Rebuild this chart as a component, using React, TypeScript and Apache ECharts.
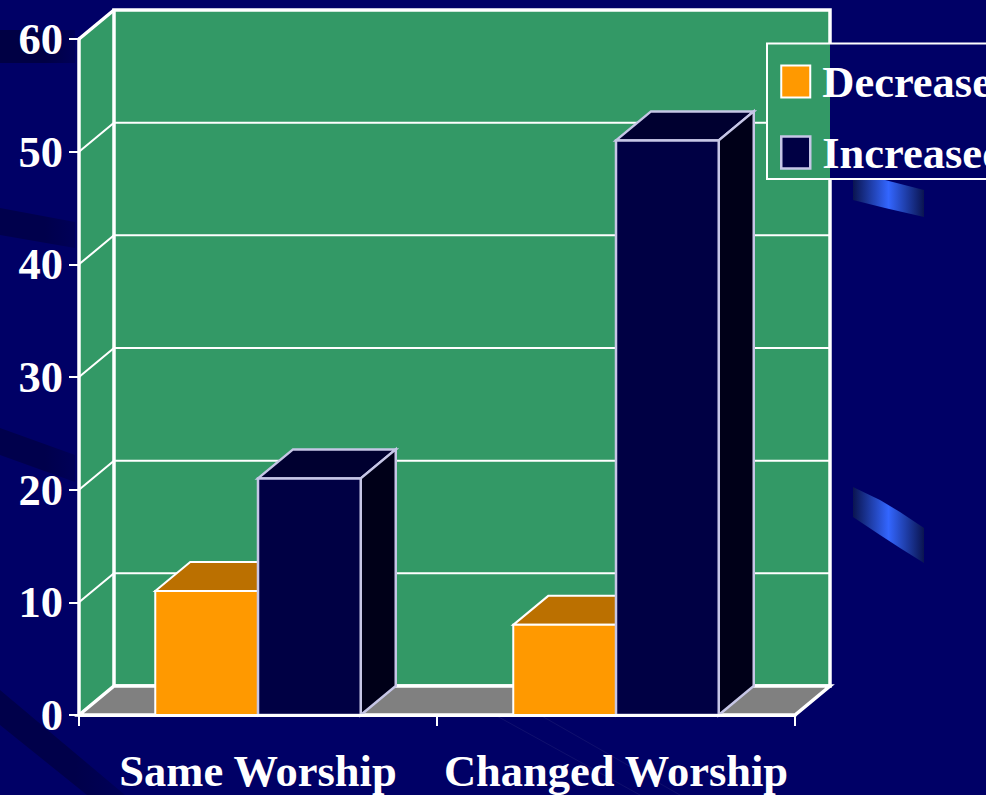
import React, { useEffect, useRef } from "react";
import * as echarts from "echarts";

const categories = ["Same Worship", "Changed Worship"];
const decreaseValues = [11, 8];
const increaseValues = [21, 51];
const yTicks = [0, 10, 20, 30, 40, 50, 60];
const seriesNames = ["Decreased", "Increased"];

const FONT = "'Liberation Serif', 'Times New Roman', serif";
const NAVY = "#000066";
const WALL = "#339966";
const FLOOR = "#808080";
const DEPTH_X = 35;
const DEPTH_Y = 29;
const BAR_SHARE = 0.287;

const decreaseFaces = { front: "#FF9900", top: "#BB7000", side: "#BB7000", edge: "#FFFFFF", width: 2 };
const increaseFaces = { front: "#000044", top: "#000030", side: "#000018", edge: "#C6C6E6", width: 2.5 };

const poly = (points: number[][], fill: string, stroke: string, lineWidth: number) => ({
  type: "polygon",
  shape: { points },
  style: { fill, stroke, lineWidth, lineJoin: "miter" },
});

// Back wall, side wall and floor of the 3D plot box.
const renderBox = (params: any) => {
  const { x, y, width, height } = params.coordSys;
  const bottom = y + height;
  const right = x + width;
  return {
    type: "group",
    children: [
      poly([[x, y], [x + DEPTH_X, y - DEPTH_Y], [x + DEPTH_X, bottom - DEPTH_Y], [x, bottom]], WALL, "none", 0),
      poly(
        [[x + DEPTH_X, y - DEPTH_Y], [right + DEPTH_X, y - DEPTH_Y], [right + DEPTH_X, bottom - DEPTH_Y], [x + DEPTH_X, bottom - DEPTH_Y]],
        WALL,
        "#FFFFFF",
        3.5,
      ),
      poly([[x, bottom], [x + DEPTH_X, bottom - DEPTH_Y], [right + DEPTH_X, bottom - DEPTH_Y], [right, bottom]], FLOOR, "#FFFFFF", 3.5),
      {
        type: "polyline",
        shape: { points: [[x, y], [x + DEPTH_X, y - DEPTH_Y]] },
        style: { stroke: "#FFFFFF", lineWidth: 3.5, fill: "none" },
      },
    ],
  };
};

// A gridline folds along the side wall and then runs across the back wall.
const renderGridline = (params: any, api: any) => {
  const { x, width } = params.coordSys;
  const py = api.coord([0, api.value(0)])[1];
  return {
    type: "polyline",
    shape: { points: [[x, py], [x + DEPTH_X, py - DEPTH_Y], [x + width + DEPTH_X, py - DEPTH_Y]] },
    style: { stroke: "#FFFFFF", lineWidth: 2, fill: "none" },
  };
};

const barRenderer = (faces: typeof decreaseFaces, side: number) => (_params: any, api: any) => {
  const top = api.coord([api.value(0), api.value(1)]);
  const base = api.coord([api.value(0), 0]);
  const barWidth = api.size([1, 0])[0] * BAR_SHARE;
  const x0 = top[0] + (side < 0 ? -barWidth : 0);
  const x1 = x0 + barWidth;
  const lw = faces.width;
  return {
    type: "group",
    children: [
      poly([[x0, top[1]], [x0 + DEPTH_X, top[1] - DEPTH_Y], [x1 + DEPTH_X, top[1] - DEPTH_Y], [x1, top[1]]], faces.top, faces.edge, lw),
      poly([[x1, top[1]], [x1 + DEPTH_X, top[1] - DEPTH_Y], [x1 + DEPTH_X, base[1] - DEPTH_Y], [x1, base[1]]], faces.side, faces.edge, lw),
      poly([[x0, top[1]], [x1, top[1]], [x1, base[1]], [x0, base[1]]], faces.front, faces.edge, lw),
    ],
  };
};

const horizontal = (colorStops: { offset: number; color: string }[]) => ({
  type: "linear",
  x: 0,
  y: 0,
  x2: 1,
  y2: 0,
  colorStops,
});

const darkBand = (points: number[][], color: string) => ({
  type: "polygon",
  z: 0,
  silent: true,
  shape: { points },
  style: {
    fill: horizontal([
      { offset: 0, color },
      { offset: 0.6, color },
      { offset: 1, color: "#000058" },
    ]),
  },
});

const streak = (points: number[][]) => ({
  type: "polygon",
  z: 0,
  silent: true,
  shape: { points },
  style: {
    fill: horizontal([
      { offset: 0, color: "#0A1450" },
      { offset: 0.5, color: "#3366FF" },
      { offset: 1, color: "#0A1450" },
    ]),
  },
});

const faintLine = (points: number[][]) => ({
  type: "polyline",
  z: 0,
  silent: true,
  shape: { points },
  style: { stroke: "#10106E", lineWidth: 1, fill: "none" },
});

const backdrop = [
  darkBand([[0, 30], [75, 30], [75, 63], [0, 63]], "#000044"),
  darkBand([[0, 208], [75, 222], [75, 248], [0, 235]], "#00004C"),
  darkBand([[0, 428], [75, 455], [75, 482], [0, 455]], "#00004C"),
  darkBand([[0, 690], [125, 795], [87, 795], [0, 725]], "#00004A"),
  streak([[853, 173], [885, 180], [924, 190], [924, 217], [885, 208], [853, 200]]),
  streak([[853, 487], [880, 500], [900, 512], [924, 528], [924, 563], [900, 548], [880, 535], [853, 517]]),
  faintLine([[495, 715], [640, 795]]),
  faintLine([[540, 715], [680, 795]]),
];

const legendPanel = [
  { type: "rect", z: 8, silent: true, shape: { x: 767, y: 43, width: 63, height: 136 }, style: { fill: WALL } },
  { type: "rect", z: 8, silent: true, shape: { x: 830, y: 43, width: 156, height: 136 }, style: { fill: NAVY } },
  {
    type: "polyline",
    z: 9,
    silent: true,
    shape: { points: [[986, 43.5], [767, 43.5], [767, 179], [986, 179]] },
    style: { stroke: "#FFFFFF", lineWidth: 2, fill: "none" },
  },
];

export default function App() {
  const ref = useRef<HTMLDivElement>(null);

  useEffect(() => {
    const chart = echarts.init(ref.current!, undefined, { renderer: "svg" });
    chart.setOption({
      animation: false,
      backgroundColor: NAVY,
      textStyle: { fontFamily: FONT },
      grid: { left: 79, right: 191, top: 39, bottom: 80 },
      graphic: { elements: [...backdrop, ...legendPanel] },
      legend: {
        z: 10,
        orient: "vertical",
        left: 780,
        top: 59,
        padding: 0,
        itemWidth: 29,
        itemHeight: 32,
        itemGap: 26,
        selectedMode: false,
        data: [
          { name: seriesNames[0], icon: "rect", itemStyle: { color: decreaseFaces.front, borderColor: decreaseFaces.edge, borderWidth: 2 } },
          { name: seriesNames[1], icon: "rect", itemStyle: { color: increaseFaces.front, borderColor: increaseFaces.edge, borderWidth: 2.5 } },
        ],
        textStyle: { color: "#FFFFFF", fontFamily: FONT, fontWeight: "bold", fontSize: 44.5, padding: [4, 0, 0, 7] },
      },
      xAxis: {
        type: "category",
        data: categories,
        z: 5,
        axisLine: { lineStyle: { color: "#FFFFFF", width: 3 } },
        axisTick: { show: true, alignWithLabel: false, length: 11, lineStyle: { color: "#FFFFFF", width: 2 } },
        axisLabel: { color: "#FFFFFF", fontFamily: FONT, fontWeight: "bold", fontSize: 44.5, margin: 33, interval: 0 },
      },
      yAxis: {
        type: "value",
        min: 0,
        max: 60,
        interval: 10,
        z: 5,
        splitLine: { show: false },
        axisLine: { show: true, lineStyle: { color: "#FFFFFF", width: 3.5 } },
        axisTick: { show: true, length: 10, lineStyle: { color: "#FFFFFF", width: 2 } },
        axisLabel: { color: "#FFFFFF", fontFamily: FONT, fontWeight: "bold", fontSize: 44.5, margin: 16 },
      },
      series: [
        { type: "custom", name: "box", silent: true, z: 1, data: [[0]], renderItem: renderBox },
        { type: "custom", name: "gridlines", silent: true, z: 2, data: yTicks.map((v) => [v]), renderItem: renderGridline },
        {
          type: "custom",
          name: seriesNames[0],
          z: 3,
          itemStyle: { color: decreaseFaces.front },
          data: decreaseValues.map((v, i) => [i, v]),
          renderItem: barRenderer(decreaseFaces, -1),
        },
        {
          type: "custom",
          name: seriesNames[1],
          z: 4,
          itemStyle: { color: increaseFaces.front },
          data: increaseValues.map((v, i) => [i, v]),
          renderItem: barRenderer(increaseFaces, 1),
        },
      ],
    });
    return () => chart.dispose();
  }, []);

  return (
    <div
      ref={ref}
      style={{ position: "fixed", left: 0, top: 0, width: 986, height: 795, overflow: "hidden" }}
    />
  );
}
